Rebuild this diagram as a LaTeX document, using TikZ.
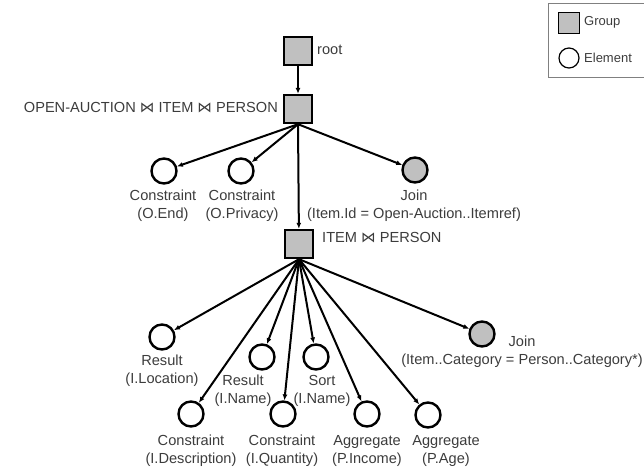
\documentclass[tikz,border=0pt]{standalone}
\usepackage{amsmath}
\usepackage{amssymb}
\usepackage{fontspec}
\setmainfont{Liberation Sans}
\newfontfamily\symfont{DejaVu Sans}
\newcommand{\joinsym}{{\symfont ⋈}}
\usetikzlibrary{arrows.meta}
\definecolor{boxgray}{RGB}{192,192,192}
\definecolor{txtgray}{RGB}{60,60,60}
\begin{document}
\begin{tikzpicture}[x=1pt,y=-1pt]
\tikzstyle{every node}=[font=\fontsize{14.6}{18}\selectfont,text=txtgray];
\tikzstyle{group}=[draw,line width=2.4pt,fill=boxgray,minimum size=28pt,inner sep=0pt];
\tikzstyle{element}=[draw,line width=2.4pt,circle,minimum size=25pt,inner sep=0pt];
\tikzstyle{joinel}=[element,fill=boxgray];
\tikzstyle{lbl}=[align=center,inner sep=0pt];
\tikzstyle{edge}=[line width=2pt,-{Latex[length=6pt,width=5pt]}];
\useasboundingbox (0,0) rectangle (644,472);
% groups
\node[group] (root) at (298,51) {};
\node[group] (oip) at (298,109) {};
\node[group] (ip) at (299,244) {};
% elements under OPEN-AUCTION
\node[element] (cend) at (164,171) {};
\node[element] (cpriv) at (241,171) {};
\node[joinel] (join1) at (415,170) {};
% elements under ITEM
\node[element] (rloc) at (162,337) {};
\node[element] (rname) at (262,357) {};
\node[element] (sname) at (316,357) {};
\node[element] (cdesc) at (191,414) {};
\node[element] (cqty) at (283,414) {};
\node[element] (ainc) at (367,414) {};
\node[element] (aage) at (428,415) {};
\node[joinel] (join2) at (482,334) {};
% labels
\node[anchor=west,inner sep=0pt] (lroot) at (317,50) {root};
\node[anchor=east,inner sep=0pt] (loip) at (278,108) {OPEN-AUCTION \joinsym{} ITEM \joinsym{} PERSON};
\node[anchor=west,inner sep=0pt] (lip) at (322,238) {ITEM \joinsym{} PERSON};
\node[lbl] (lcend) at (163,206) {Constraint\\(O.End)};
\node[lbl] (lcpriv) at (242,206) {Constraint\\(O.Privacy)};
\node[lbl] (ljoin1) at (414,206) {Join\\(Item.Id = Open-Auction..Itemref)};
\node[lbl] (lrloc) at (162,371) {Result\\(I.Location)};
\node[lbl] (lrname) at (243,391) {Result\\(I.Name)};
\node[lbl] (lsname) at (322,391) {Sort\\(I.Name)};
\node[lbl] (lcdesc) at (191,451) {Constraint\\(I.Description)};
\node[lbl] (lcqty) at (282,451) {Constraint\\(I.Quantity)};
\node[lbl] (lainc) at (367,451) {Aggregate\\(P.Income)};
\node[lbl] (laage) at (446,451) {Aggregate\\(P.Age)};
\node[lbl] (ljoin2) at (522,352) {Join\\(Item..Category = Person..Category*)};
% edges
\draw[edge] (root) -- (oip);
\foreach \c in {cend,cpriv,join1,ip}
  \draw[edge] (oip.south) -- (\c);
\foreach \c in {rloc,rname,sname,cdesc,cqty,ainc,aage,join2}
  \draw[edge] (ip.south) -- (\c);
% legend
\draw[draw=gray,line width=0.8pt] (548,3) rectangle (647,77);
\node[group,minimum size=21pt,line width=1.2pt] (lgroup) at (569,23) {};
\node[element,minimum size=20pt,line width=1.2pt] (lelem) at (569,58) {};
\node[anchor=west,inner sep=0pt,font=\fontsize{13}{16}\selectfont] (tgroup) at (584,22) {Group};
\node[anchor=west,inner sep=0pt,font=\fontsize{13}{16}\selectfont] (telem) at (584,58) {Element};
\end{tikzpicture}
\end{document}
